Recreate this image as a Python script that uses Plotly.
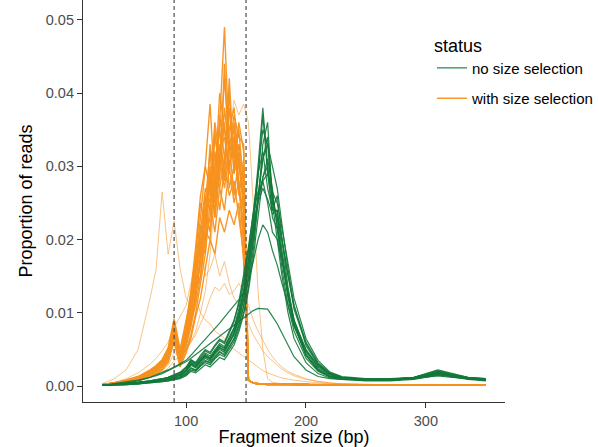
import plotly.graph_objects as go

# Fragment size grid (bp)
fragment_size = [30, 40, 50, 60, 70, 75, 80, 85, 90, 95, 100, 104, 108, 112, 116, 120, 124, 128, 132, 136,
                 140, 144, 148, 152, 156, 160, 164, 168, 172, 176, 180, 185, 190, 200, 210, 220, 230, 250,
                 270, 290, 300, 310, 320, 335, 350]

# shared near-zero tail (152 .. 350 bp) of the size-selected libraries
tail_with = [0.0008, 0.0004, 0.0003, 0.0003, 0.0002, 0.0002, 0.0002, 0.0002, 0.0002, 0.0002, 0.0002, 0.0001,
             0.0001, 0.0001, 0.0001, 0.0001, 0.0001, 0.0001, 0.0001, 0.0001, 0.0001, 0.0001]

# with size selection samples (30 .. 148 bp, then tail)
with_sel_1 = [0.0002, 0.0004, 0.0007, 0.0011, 0.0018, 0.0024, 0.0032, 0.0045, 0.0088, 0.0040,
              0.0075, 0.0105, 0.0135, 0.0170, 0.0215, 0.0290, 0.0250, 0.0360, 0.0490, 0.0330, 0.0350, 0.0280, 0.0190]
with_sel_2 = [0.0002, 0.0003, 0.0006, 0.0010, 0.0016, 0.0021, 0.0028, 0.0040, 0.0075, 0.0035,
              0.0065, 0.0095, 0.0140, 0.0200, 0.0260, 0.0240, 0.0350, 0.0280, 0.0440, 0.0300, 0.0330, 0.0260, 0.0300]
with_sel_3 = [0.0002, 0.0004, 0.0008, 0.0013, 0.0022, 0.0028, 0.0036, 0.0052, 0.0092, 0.0050,
              0.0090, 0.0120, 0.0170, 0.0230, 0.0300, 0.0385, 0.0270, 0.0320, 0.0340, 0.0290, 0.0360, 0.0300, 0.0250]
with_sel_4 = [0.0001, 0.0003, 0.0005, 0.0009, 0.0015, 0.0020, 0.0026, 0.0038, 0.0070, 0.0030,
              0.0055, 0.0080, 0.0120, 0.0180, 0.0240, 0.0280, 0.0250, 0.0330, 0.0300, 0.0400, 0.0290, 0.0360, 0.0320]
with_sel_5 = [0.0002, 0.0004, 0.0007, 0.0012, 0.0020, 0.0026, 0.0034, 0.0048, 0.0080, 0.0042,
              0.0070, 0.0110, 0.0160, 0.0200, 0.0180, 0.0290, 0.0230, 0.0320, 0.0280, 0.0330, 0.0260, 0.0310, 0.0250]
with_sel_6 = [0.0002, 0.0004, 0.0008, 0.0013, 0.0021, 0.0027, 0.0035, 0.0050, 0.0070, 0.0045,
              0.0060, 0.0090, 0.0130, 0.0150, 0.0210, 0.0200, 0.0290, 0.0240, 0.0300, 0.0260, 0.0280, 0.0230, 0.0180]
with_sel_7 = [0.0001, 0.0003, 0.0006, 0.0010, 0.0017, 0.0022, 0.0029, 0.0042, 0.0082, 0.0038,
              0.0068, 0.0100, 0.0150, 0.0220, 0.0200, 0.0300, 0.0260, 0.0370, 0.0310, 0.0350, 0.0380, 0.0300, 0.0280]
with_sel_8 = [0.0002, 0.0004, 0.0007, 0.0011, 0.0019, 0.0024, 0.0031, 0.0044, 0.0078, 0.0036,
              0.0062, 0.0090, 0.0120, 0.0180, 0.0250, 0.0320, 0.0230, 0.0290, 0.0360, 0.0270, 0.0300, 0.0330, 0.0230]
with_sel_9 = [0.0001, 0.0003, 0.0006, 0.0010, 0.0017, 0.0022, 0.0029, 0.0041, 0.0072, 0.0034,
              0.0058, 0.0085, 0.0112, 0.0150, 0.0200, 0.0230, 0.0320, 0.0270, 0.0310, 0.0380, 0.0290, 0.0320, 0.0260]
with_sel_10 = [0.0002, 0.0004, 0.0008, 0.0012, 0.0020, 0.0026, 0.0033, 0.0047, 0.0085, 0.0044,
               0.0080, 0.0125, 0.0180, 0.0250, 0.0220, 0.0330, 0.0280, 0.0400, 0.0350, 0.0300, 0.0340, 0.0270, 0.0220]
with_sel_11 = [0.0001, 0.0003, 0.0005, 0.0008, 0.0014, 0.0018, 0.0024, 0.0035, 0.0065, 0.0028,
               0.0050, 0.0070, 0.0100, 0.0140, 0.0180, 0.0250, 0.0210, 0.0270, 0.0240, 0.0300, 0.0250, 0.0280, 0.0200]
with_sel_12 = [0.0002, 0.0004, 0.0007, 0.0012, 0.0019, 0.0025, 0.0033, 0.0046, 0.0084, 0.0041,
               0.0072, 0.0110, 0.0145, 0.0190, 0.0240, 0.0210, 0.0300, 0.0350, 0.0280, 0.0420, 0.0300, 0.0330, 0.0290]
with_sel_13 = [0.0001, 0.0002, 0.0004, 0.0008, 0.0013, 0.0017, 0.0022, 0.0032, 0.0060, 0.0026,
               0.0045, 0.0065, 0.0095, 0.0120, 0.0160, 0.0200, 0.0180, 0.0230, 0.0210, 0.0240, 0.0220, 0.0250, 0.0170]
with_sel_14 = [0.0002, 0.0004, 0.0007, 0.0011, 0.0019, 0.0025, 0.0032, 0.0046, 0.0090, 0.0043,
               0.0078, 0.0115, 0.0160, 0.0210, 0.0270, 0.0250, 0.0340, 0.0300, 0.0380, 0.0320, 0.0370, 0.0340, 0.0330]
with_sel_15 = [0.0001, 0.0003, 0.0006, 0.0009, 0.0016, 0.0021, 0.0027, 0.0039, 0.0074, 0.0033,
               0.0060, 0.0088, 0.0125, 0.0165, 0.0230, 0.0270, 0.0240, 0.0310, 0.0270, 0.0320, 0.0340, 0.0270, 0.0240]
with_sel_16 = [0.0002, 0.0004, 0.0007, 0.0012, 0.0020, 0.0026, 0.0034, 0.0049, 0.0086, 0.0046,
               0.0085, 0.0130, 0.0190, 0.0260, 0.0300, 0.0270, 0.0360, 0.0310, 0.0420, 0.0330, 0.0310, 0.0350, 0.0270]

# broader / off-target size-selected libraries (full grid)
with_sel_17 = [0.0002, 0.0003, 0.0005, 0.0008, 0.0012, 0.0015, 0.0019, 0.0024, 0.0035, 0.0040, 0.0050, 0.0060,
               0.0075, 0.0100, 0.0130, 0.0180, 0.0260, 0.0300, 0.0370, 0.0340, 0.0390, 0.0370, 0.0385, 0.0360,
               0.0250, 0.0130, 0.0050, 0.0010, 0.0005, 0.0004, 0.0003, 0.0003, 0.0002, 0.0002, 0.0001, 0.0001,
               0.0001, 0.0001, 0.0001, 0.0001, 0.0001, 0.0001, 0.0001, 0.0001, 0.0001]
with_sel_18 = [0.0003, 0.0010, 0.0022, 0.0050, 0.0120, 0.0160, 0.0265, 0.0180, 0.0225, 0.0160, 0.0120, 0.0110,
               0.0120, 0.0100, 0.0090, 0.0085, 0.0075, 0.0070, 0.0065, 0.0055, 0.0050, 0.0045, 0.0040, 0.0035,
               0.0030, 0.0025, 0.0021, 0.0018, 0.0015, 0.0013, 0.0011, 0.0009, 0.0008, 0.0006, 0.0004, 0.0003,
               0.0003, 0.0002, 0.0001, 0.0001, 0.0001, 0.0001, 0.0001, 0.0001, 0.0001]
with_sel_19 = [0.0002, 0.0005, 0.0010, 0.0018, 0.0030, 0.0038, 0.0048, 0.0060, 0.0080, 0.0095, 0.0110, 0.0140,
               0.0170, 0.0200, 0.0150, 0.0160, 0.0180, 0.0150, 0.0170, 0.0140, 0.0120, 0.0110, 0.0095, 0.0085,
               0.0070, 0.0058, 0.0048, 0.0040, 0.0034, 0.0028, 0.0023, 0.0018, 0.0014, 0.0009, 0.0006, 0.0004,
               0.0003, 0.0002, 0.0002, 0.0001, 0.0001, 0.0001, 0.0001, 0.0001, 0.0001]
with_sel_20 = [0.0001, 0.0002, 0.0004, 0.0007, 0.0012, 0.0016, 0.0021, 0.0028, 0.0045, 0.0040, 0.0050, 0.0060,
               0.0070, 0.0085, 0.0100, 0.0120, 0.0135, 0.0130, 0.0140, 0.0125, 0.0130, 0.0140, 0.0130, 0.0110,
               0.0090, 0.0075, 0.0062, 0.0050, 0.0040, 0.0032, 0.0026, 0.0020, 0.0016, 0.0010, 0.0006, 0.0004,
               0.0003, 0.0002, 0.0002, 0.0001, 0.0001, 0.0001, 0.0001, 0.0001, 0.0001]

# no size selection samples
no_sel_1 = [0.0001, 0.0002, 0.0003, 0.0004, 0.0006, 0.0007, 0.0008, 0.0009, 0.0012, 0.0014, 0.0020, 0.0030,
            0.0026, 0.0034, 0.0040, 0.0036, 0.0045, 0.0052, 0.0048, 0.0060, 0.0072, 0.0095, 0.0125, 0.0170,
            0.0230, 0.0300, 0.0380, 0.0300, 0.0230, 0.0215, 0.0160, 0.0110, 0.0075, 0.0038, 0.0020, 0.0012,
            0.0009, 0.0008, 0.0008, 0.0010, 0.0014, 0.0018, 0.0015, 0.0010, 0.0009]
no_sel_2 = [0.0001, 0.0002, 0.0003, 0.0004, 0.0005, 0.0006, 0.0007, 0.0008, 0.0010, 0.0012, 0.0017, 0.0025,
            0.0022, 0.0030, 0.0035, 0.0032, 0.0040, 0.0047, 0.0043, 0.0055, 0.0065, 0.0085, 0.0110, 0.0150,
            0.0200, 0.0260, 0.0310, 0.0340, 0.0260, 0.0220, 0.0180, 0.0125, 0.0085, 0.0042, 0.0022, 0.0013,
            0.0010, 0.0008, 0.0008, 0.0010, 0.0013, 0.0017, 0.0014, 0.0010, 0.0008]
no_sel_3 = [0.0001, 0.0002, 0.0003, 0.0005, 0.0007, 0.0008, 0.0009, 0.0011, 0.0014, 0.0017, 0.0024, 0.0034,
            0.0030, 0.0038, 0.0045, 0.0041, 0.0050, 0.0058, 0.0054, 0.0066, 0.0080, 0.0105, 0.0140, 0.0185,
            0.0240, 0.0290, 0.0320, 0.0270, 0.0240, 0.0240, 0.0185, 0.0130, 0.0090, 0.0048, 0.0026, 0.0015,
            0.0011, 0.0009, 0.0009, 0.0011, 0.0015, 0.0020, 0.0016, 0.0011, 0.0009]
no_sel_4 = [0.0001, 0.0001, 0.0002, 0.0003, 0.0004, 0.0005, 0.0006, 0.0007, 0.0009, 0.0011, 0.0015, 0.0022,
            0.0020, 0.0027, 0.0032, 0.0029, 0.0037, 0.0043, 0.0040, 0.0050, 0.0060, 0.0078, 0.0100, 0.0135,
            0.0185, 0.0250, 0.0330, 0.0360, 0.0250, 0.0200, 0.0150, 0.0100, 0.0065, 0.0032, 0.0017, 0.0011,
            0.0009, 0.0007, 0.0007, 0.0009, 0.0012, 0.0015, 0.0013, 0.0009, 0.0007]
no_sel_5 = [0.0001, 0.0002, 0.0004, 0.0005, 0.0007, 0.0008, 0.0010, 0.0012, 0.0016, 0.0019, 0.0026, 0.0036,
            0.0032, 0.0042, 0.0050, 0.0046, 0.0056, 0.0064, 0.0060, 0.0074, 0.0090, 0.0115, 0.0150, 0.0190,
            0.0235, 0.0265, 0.0280, 0.0250, 0.0210, 0.0200, 0.0170, 0.0125, 0.0090, 0.0050, 0.0028, 0.0016,
            0.0012, 0.0009, 0.0009, 0.0012, 0.0016, 0.0021, 0.0017, 0.0012, 0.0009]
no_sel_6 = [0.0001, 0.0002, 0.0003, 0.0004, 0.0006, 0.0007, 0.0008, 0.0010, 0.0013, 0.0015, 0.0021, 0.0030,
            0.0027, 0.0034, 0.0041, 0.0037, 0.0046, 0.0053, 0.0049, 0.0060, 0.0072, 0.0092, 0.0120, 0.0160,
            0.0210, 0.0255, 0.0285, 0.0300, 0.0255, 0.0230, 0.0200, 0.0150, 0.0105, 0.0058, 0.0030, 0.0017,
            0.0012, 0.0009, 0.0009, 0.0011, 0.0014, 0.0019, 0.0015, 0.0011, 0.0009]
no_sel_7 = [0.0001, 0.0003, 0.0005, 0.0008, 0.0012, 0.0015, 0.0018, 0.0022, 0.0026, 0.0030, 0.0035, 0.0042,
            0.0050, 0.0057, 0.0064, 0.0071, 0.0078, 0.0086, 0.0094, 0.0102, 0.0110, 0.0118, 0.0128, 0.0145,
            0.0170, 0.0200, 0.0220, 0.0210, 0.0185, 0.0165, 0.0140, 0.0110, 0.0082, 0.0048, 0.0028, 0.0017,
            0.0012, 0.0009, 0.0009, 0.0011, 0.0014, 0.0018, 0.0015, 0.0011, 0.0009]
no_sel_8 = [0.0001, 0.0002, 0.0004, 0.0007, 0.0011, 0.0014, 0.0017, 0.0021, 0.0025, 0.0029, 0.0033, 0.0038,
            0.0043, 0.0048, 0.0053, 0.0058, 0.0063, 0.0068, 0.0073, 0.0078, 0.0083, 0.0088, 0.0093, 0.0098,
            0.0103, 0.0106, 0.0106, 0.0105, 0.0095, 0.0085, 0.0072, 0.0055, 0.0040, 0.0022, 0.0013, 0.0010,
            0.0009, 0.0009, 0.0009, 0.0010, 0.0012, 0.0014, 0.0012, 0.0010, 0.0008]
no_sel_9 = [0.0001, 0.0002, 0.0003, 0.0004, 0.0005, 0.0006, 0.0007, 0.0009, 0.0011, 0.0013, 0.0019, 0.0028,
            0.0025, 0.0032, 0.0038, 0.0034, 0.0043, 0.0050, 0.0046, 0.0058, 0.0070, 0.0090, 0.0118, 0.0160,
            0.0215, 0.0285, 0.0370, 0.0290, 0.0240, 0.0260, 0.0200, 0.0135, 0.0090, 0.0045, 0.0024, 0.0014,
            0.0010, 0.0008, 0.0008, 0.0010, 0.0013, 0.0017, 0.0014, 0.0010, 0.0008]
no_sel_10 = [0.0001, 0.0001, 0.0002, 0.0003, 0.0004, 0.0005, 0.0006, 0.0007, 0.0008, 0.0010, 0.0014, 0.0020,
             0.0018, 0.0024, 0.0029, 0.0026, 0.0033, 0.0039, 0.0036, 0.0046, 0.0056, 0.0074, 0.0098, 0.0130,
             0.0175, 0.0230, 0.0285, 0.0310, 0.0270, 0.0215, 0.0175, 0.0125, 0.0085, 0.0042, 0.0022, 0.0013,
             0.0010, 0.0008, 0.0008, 0.0010, 0.0012, 0.0016, 0.0013, 0.0010, 0.0008]
no_sel_11 = [0.0001, 0.0002, 0.0003, 0.0005, 0.0007, 0.0008, 0.0010, 0.0012, 0.0015, 0.0018, 0.0025, 0.0035,
             0.0031, 0.0040, 0.0048, 0.0044, 0.0054, 0.0062, 0.0058, 0.0072, 0.0088, 0.0112, 0.0145, 0.0185,
             0.0220, 0.0250, 0.0270, 0.0255, 0.0235, 0.0240, 0.0200, 0.0150, 0.0110, 0.0060, 0.0032, 0.0018,
             0.0012, 0.0009, 0.0009, 0.0012, 0.0017, 0.0022, 0.0018, 0.0012, 0.0010]
no_sel_12 = [0.0001, 0.0001, 0.0002, 0.0003, 0.0005, 0.0006, 0.0007, 0.0008, 0.0010, 0.0012, 0.0016, 0.0024,
             0.0021, 0.0028, 0.0034, 0.0031, 0.0039, 0.0046, 0.0042, 0.0053, 0.0064, 0.0082, 0.0108, 0.0145,
             0.0195, 0.0255, 0.0310, 0.0330, 0.0300, 0.0270, 0.0220, 0.0160, 0.0110, 0.0055, 0.0030, 0.0016,
             0.0011, 0.0008, 0.0008, 0.0010, 0.0013, 0.0017, 0.0014, 0.0010, 0.0008]
no_sel_13 = [0.0001, 0.0002, 0.0003, 0.0004, 0.0006, 0.0007, 0.0008, 0.0010, 0.0012, 0.0015, 0.0021, 0.0031,
             0.0027, 0.0035, 0.0042, 0.0038, 0.0047, 0.0055, 0.0051, 0.0063, 0.0076, 0.0098, 0.0130, 0.0175,
             0.0225, 0.0290, 0.0350, 0.0330, 0.0250, 0.0230, 0.0175, 0.0120, 0.0082, 0.0042, 0.0022, 0.0013,
             0.0010, 0.0008, 0.0008, 0.0011, 0.0015, 0.0019, 0.0015, 0.0011, 0.0009]
no_sel_14 = [0.0001, 0.0002, 0.0003, 0.0005, 0.0006, 0.0007, 0.0009, 0.0011, 0.0014, 0.0016, 0.0022, 0.0032,
             0.0029, 0.0036, 0.0043, 0.0039, 0.0048, 0.0056, 0.0052, 0.0064, 0.0078, 0.0100, 0.0130, 0.0170,
             0.0215, 0.0255, 0.0280, 0.0290, 0.0265, 0.0250, 0.0215, 0.0165, 0.0120, 0.0065, 0.0035, 0.0019,
             0.0013, 0.0010, 0.0010, 0.0012, 0.0016, 0.0020, 0.0016, 0.0012, 0.0010]

with_selection_core = [with_sel_1, with_sel_2, with_sel_3, with_sel_4, with_sel_5, with_sel_6, with_sel_7,
                       with_sel_8, with_sel_9, with_sel_10, with_sel_11, with_sel_12, with_sel_13, with_sel_14,
                       with_sel_15, with_sel_16]
with_selection_broad = [with_sel_17, with_sel_18, with_sel_19, with_sel_20]
no_selection = [no_sel_1, no_sel_2, no_sel_3, no_sel_4, no_sel_5, no_sel_6, no_sel_7, no_sel_8, no_sel_9,
                no_sel_10, no_sel_11, no_sel_12, no_sel_13, no_sel_14]

selection_cutoffs = [90, 150]
status_labels = ["no size selection", "with size selection"]

GREEN = "#12793A"
ORANGE = "#F7921E"
FONT = "Liberation Sans, Arial, sans-serif"

fig = go.Figure()
first = True
for ys in with_selection_core:
    fig.add_trace(go.Scatter(
        x=fragment_size, y=ys + tail_with, mode="lines",
        line=dict(color=ORANGE, width=1.4), opacity=0.95,
        name=status_labels[1], legendgroup="with", showlegend=first, legendrank=2,
    ))
    first = False
for ys in with_selection_broad:
    fig.add_trace(go.Scatter(
        x=fragment_size, y=ys, mode="lines",
        line=dict(color=ORANGE, width=0.9), opacity=0.6,
        name=status_labels[1], legendgroup="with", showlegend=False, legendrank=2,
    ))
for i, ys in enumerate(no_selection):
    fig.add_trace(go.Scatter(
        x=fragment_size, y=ys, mode="lines",
        line=dict(color=GREEN, width=1.2), opacity=0.9,
        name=status_labels[0], legendgroup="no", showlegend=(i == 0), legendrank=1,
    ))

for c in selection_cutoffs:
    fig.add_vline(x=c, line=dict(color="#4D4D4D", width=1.2, dash="4px,3px"), layer="above")

axis_common = dict(
    showline=True, linecolor="#333333", linewidth=1.2, ticks="outside", ticklen=5,
    tickcolor="#333333", tickwidth=1.1, showgrid=False, zeroline=False,
    tickfont=dict(family=FONT, size=14.5, color="#4D4D4D"),
)

fig.update_layout(
    width=599, height=447,
    margin=dict(l=83, r=89, t=0, b=45),
    paper_bgcolor="white", plot_bgcolor="white",
    font=dict(family=FONT),
    xaxis=dict(range=[14, 366], tickvals=[100, 200, 300],
               title=dict(text="Fragment size (bp)", font=dict(family=FONT, size=18, color="black"), standoff=2),
               **axis_common),
    yaxis=dict(range=[-0.00218, 0.0527], tickvals=[0, 0.01, 0.02, 0.03, 0.04, 0.05], tickformat=".2f",
               title=dict(text="Proportion of reads", font=dict(family=FONT, size=18, color="black"), standoff=8),
               **axis_common),
    legend=dict(
        x=0.827, y=0.93, xanchor="left", yanchor="top",
        title=dict(text="status", font=dict(family=FONT, size=18, color="black")),
        font=dict(family=FONT, size=15, color="black"),
        traceorder="grouped", tracegroupgap=8, bgcolor="rgba(0,0,0,0)",
    ),
)

fig.write_html("out.html")
